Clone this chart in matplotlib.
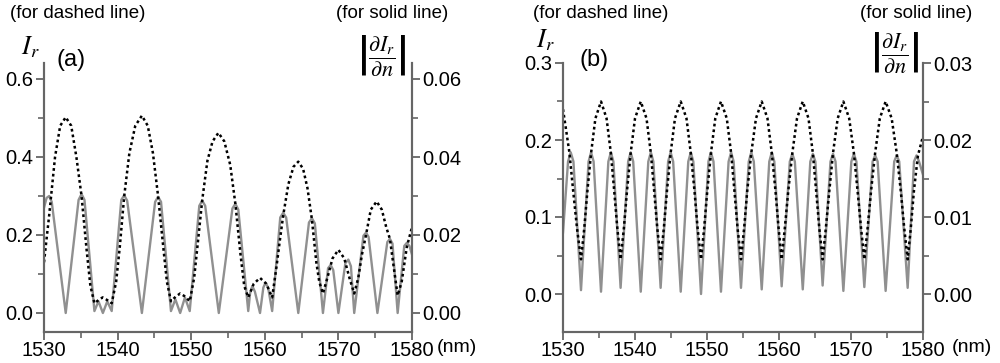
import numpy as np
import matplotlib
matplotlib.use("Agg")
import matplotlib.pyplot as plt
from matplotlib.ticker import MultipleLocator

plt.rcParams["font.family"] = ["Liberation Sans", "DejaVu Sans"]
plt.rcParams["mathtext.fontset"] = "stix"

# ---- panel (a) data ----
a_dash_x = [1530.0, 1530.7, 1531.5, 1532.2, 1532.95, 1533.7, 1534.4, 1535.1, 1535.8, 1536.3,
            1536.85, 1537.4, 1537.97, 1538.6, 1539.2, 1539.8, 1540.3, 1540.9, 1541.6, 1542.4,
            1543.3, 1544.1, 1544.8, 1545.5, 1546.2, 1546.7, 1547.25, 1547.9, 1548.5, 1549.2,
            1549.8, 1550.4, 1550.9, 1551.5, 1552.2, 1552.9, 1553.7, 1554.5, 1555.3, 1556.0,
            1556.7, 1557.2, 1557.75, 1558.5, 1559.35, 1560.2, 1561.0, 1561.6, 1562.0, 1562.5,
            1563.2, 1563.9, 1564.55, 1565.2, 1565.8, 1566.4, 1567.0, 1567.4, 1567.9, 1568.5,
            1569.2, 1570.0, 1570.8, 1571.5, 1572.15, 1572.7, 1573.2, 1573.75, 1574.4, 1575.2,
            1575.9, 1576.5, 1577.0, 1577.5, 1578.05, 1578.6, 1579.3, 1580.0]
a_dash_y = [0.13, 0.25, 0.40, 0.48, 0.502, 0.48, 0.40, 0.30, 0.16, 0.07,
            0.025, 0.033, 0.04, 0.033, 0.025, 0.08, 0.17, 0.30, 0.41, 0.48,
            0.506, 0.48, 0.41, 0.30, 0.17, 0.08, 0.03, 0.042, 0.05, 0.042,
            0.03, 0.09, 0.18, 0.29, 0.39, 0.44, 0.462, 0.44, 0.38, 0.28,
            0.15, 0.07, 0.04, 0.075, 0.09, 0.075, 0.04, 0.12, 0.18, 0.25,
            0.33, 0.375, 0.388, 0.37, 0.32, 0.24, 0.13, 0.08, 0.05, 0.09,
            0.14, 0.162, 0.14, 0.09, 0.05, 0.09, 0.15, 0.20, 0.265, 0.286,
            0.265, 0.22, 0.19, 0.12, 0.045, 0.08, 0.17, 0.22]

a_solid_x = [1530.0, 1530.35, 1530.7, 1531.05, 1532.95, 1534.7, 1535.1, 1535.5, 1536.85, 1537.4,
             1538.0, 1538.6, 1539.2, 1540.5, 1540.9, 1541.3, 1543.3, 1545.1, 1545.5, 1545.9,
             1547.25, 1547.85, 1548.5, 1549.15, 1549.8, 1551.1, 1551.5, 1551.9, 1553.75, 1555.6,
             1556.0, 1556.4, 1557.75, 1558.0, 1558.3, 1558.65, 1559.35, 1559.8, 1560.1, 1560.45,
             1561.0, 1562.1, 1562.5, 1562.9, 1564.55, 1566.0, 1566.4, 1566.8, 1567.9, 1568.6,
             1568.95, 1569.3, 1570.0, 1570.95, 1571.35, 1571.7, 1572.15, 1573.4, 1573.75, 1574.1,
             1575.3, 1576.65, 1577.0, 1577.35, 1578.05, 1578.95, 1579.3, 1579.65, 1580.0]
a_solid_y = [0.0270, 0.0295, 0.0300, 0.0285, 0.0000, 0.0290, 0.0305, 0.0290, 0.0005, 0.0030,
             0.0000, 0.0030, 0.0005, 0.0290, 0.0302, 0.0288, 0.0000, 0.0285, 0.0298, 0.0285,
             0.0005, 0.0035, 0.0000, 0.0040, 0.0005, 0.0275, 0.0288, 0.0275, 0.0000, 0.0268,
             0.0280, 0.0265, 0.0005, 0.0050, 0.0069, 0.0055, 0.0000, 0.0065, 0.0078, 0.0065,
             0.0005, 0.0245, 0.0257, 0.0245, 0.0000, 0.0232, 0.0243, 0.0230, 0.0000, 0.0115,
             0.0123, 0.0110, 0.0000, 0.0128, 0.0137, 0.0120, 0.0000, 0.0198, 0.0206, 0.0195,
             0.0000, 0.0182, 0.0190, 0.0178, 0.0000, 0.0172, 0.0180, 0.0172, 0.0150]

# ---- panel (b) data ----
b_dash_x = [1530.0, 1530.4, 1530.9, 1531.4, 1531.95, 1532.5, 1532.95, 1533.4, 1533.9, 1534.5,
            1535.28, 1536.05, 1536.65, 1537.1, 1537.55, 1538.0, 1538.45, 1538.9, 1539.4, 1540.0,
            1540.8, 1541.6, 1542.2, 1542.65, 1543.1, 1543.56, 1544.0, 1544.45, 1544.95, 1545.55,
            1546.35, 1547.15, 1547.75, 1548.25, 1548.7, 1549.17, 1549.6, 1550.05, 1550.55, 1551.15,
            1551.94, 1552.75, 1553.35, 1553.8, 1554.25, 1554.72, 1555.15, 1555.6, 1556.15, 1556.8,
            1557.6, 1558.4, 1559.0, 1559.5, 1559.95, 1560.37, 1560.8, 1561.3, 1561.85, 1562.5,
            1563.3, 1564.1, 1564.7, 1565.15, 1565.6, 1566.06, 1566.5, 1567.0, 1567.5, 1568.15,
            1568.94, 1569.75, 1570.4, 1570.9, 1571.4, 1571.85, 1572.3, 1572.8, 1573.35, 1574.0,
            1574.81, 1575.65, 1576.35, 1576.9, 1577.4, 1577.87, 1578.3, 1578.75, 1579.3, 1580.0]
b_dash_y = [0.240, 0.215, 0.183, 0.135, 0.085, 0.045, 0.085, 0.135, 0.183, 0.228,
            0.250, 0.228, 0.183, 0.135, 0.085, 0.045, 0.085, 0.135, 0.183, 0.228,
            0.250, 0.228, 0.183, 0.135, 0.085, 0.045, 0.085, 0.135, 0.183, 0.228,
            0.250, 0.228, 0.183, 0.135, 0.085, 0.045, 0.085, 0.135, 0.183, 0.228,
            0.250, 0.228, 0.183, 0.135, 0.085, 0.045, 0.085, 0.135, 0.183, 0.228,
            0.250, 0.228, 0.183, 0.135, 0.085, 0.045, 0.085, 0.135, 0.183, 0.228,
            0.250, 0.228, 0.183, 0.135, 0.085, 0.045, 0.085, 0.135, 0.183, 0.228,
            0.250, 0.228, 0.183, 0.135, 0.085, 0.045, 0.085, 0.135, 0.183, 0.228,
            0.250, 0.228, 0.183, 0.135, 0.085, 0.045, 0.085, 0.135, 0.180, 0.205]

b_solid_x = [1530.0, 1530.7, 1531.07, 1531.45, 1532.5, 1533.55, 1533.9, 1534.25, 1535.28, 1536.3,
             1536.65, 1537.0, 1538.0, 1539.05, 1539.4, 1539.75, 1540.8, 1541.85, 1542.2, 1542.55,
             1543.56, 1544.6, 1544.95, 1545.3, 1546.35, 1547.4, 1547.75, 1548.1, 1549.17, 1550.2,
             1550.55, 1550.9, 1551.94, 1553.0, 1553.35, 1553.7, 1554.72, 1555.8, 1556.15, 1556.5,
             1557.6, 1558.65, 1559.0, 1559.35, 1560.37, 1561.5, 1561.85, 1562.2, 1563.3, 1564.35,
             1564.7, 1565.05, 1566.06, 1567.15, 1567.5, 1567.85, 1568.94, 1570.05, 1570.4, 1570.75,
             1571.85, 1573.0, 1573.35, 1573.7, 1574.81, 1576.0, 1576.35, 1576.7, 1577.87, 1578.75,
             1579.1, 1579.45, 1580.0]
b_solid_y = [0.0080, 0.0172, 0.0184, 0.0172, 0.0005, 0.0172, 0.0184, 0.0172, 0.0003, 0.0172,
             0.0184, 0.0172, 0.0008, 0.0172, 0.0184, 0.0172, 0.0003, 0.0172, 0.0184, 0.0172,
             0.0008, 0.0172, 0.0184, 0.0172, 0.0003, 0.0172, 0.0184, 0.0172, 0.0000, 0.0172,
             0.0184, 0.0172, 0.0003, 0.0172, 0.0184, 0.0172, 0.0008, 0.0172, 0.0184, 0.0172,
             0.0006, 0.0172, 0.0184, 0.0172, 0.0010, 0.0172, 0.0182, 0.0172, 0.0006, 0.0172,
             0.0182, 0.0172, 0.0011, 0.0172, 0.0182, 0.0172, 0.0004, 0.0172, 0.0182, 0.0172,
             0.0009, 0.0172, 0.0180, 0.0172, 0.0004, 0.0172, 0.0180, 0.0172, 0.0008, 0.0172,
             0.0180, 0.0172, 0.0155]

x_ticks = [1530, 1540, 1550, 1560, 1570, 1580]

W, H = 1000, 363
fig = plt.figure(figsize=(W / 100, H / 100), dpi=100)

spine_c = "#666666"
solid_c = "#909090"


def px(x, y):
    return x / W, 1 - y / H


def panel(left_px, right_px, ytop, ymaj, yminor, rfac, rmaj, rminor, lfmt, rfmt,
          dx, dy, sx, sy):
    bottom = 332
    if ytop > 0.5:
        y0, scale = 313, (313 - 79) / 0.6
    else:
        y0, scale = 294, (294 - 63) / 0.3
    top_px = y0 - ytop * scale
    bot_val = (y0 - bottom) / scale
    ax = fig.add_axes([left_px / W, 1 - bottom / H, (right_px - left_px) / W,
                       (bottom - top_px) / H])
    ax2 = ax.twinx()
    ax.set_zorder(ax2.get_zorder() + 1)
    ax.patch.set_visible(False)

    ax2.plot(sx, sy, color=solid_c, lw=1.7, solid_joinstyle="round")
    ax.plot(dx, dy, color="black", lw=1.8, linestyle=(0, (1.1, 1.2)))

    ax.set_xlim(1530, 1580)
    ax.set_xticks(x_ticks)
    ax.xaxis.set_minor_locator(MultipleLocator(5))
    ax.yaxis.set_major_locator(MultipleLocator(ymaj))
    ax.yaxis.set_minor_locator(MultipleLocator(yminor))
    ax2.yaxis.set_major_locator(MultipleLocator(rmaj))
    ax2.yaxis.set_minor_locator(MultipleLocator(rminor))
    ax.yaxis.set_major_formatter(plt.FormatStrFormatter(lfmt))
    ax2.yaxis.set_major_formatter(plt.FormatStrFormatter(rfmt))

    for a in (ax, ax2):
        for s in a.spines.values():
            s.set_color(spine_c)
            s.set_linewidth(1.5)
        a.spines["top"].set_visible(False)
        a.tick_params(which="major", length=6, width=1.3, color=spine_c,
                      labelsize=14.5, pad=1.5, direction="out")
        a.tick_params(which="minor", length=4, width=1.2, color=spine_c, direction="out")
    ax.tick_params(axis="x", pad=0.5)
    ax.set_ylim(bot_val, ytop)
    ax2.set_ylim(bot_val * rfac, ytop * rfac)
    return ax, ax2


panel(44, 412, 0.64, 0.2, 0.1, 0.1, 0.02, 0.01, "%.1f", "%.2f",
      a_dash_x, a_dash_y, a_solid_x, a_solid_y)
panel(563, 923, 0.30, 0.1, 0.05, 0.1, 0.01, 0.005, "%.1f", "%.2f",
      b_dash_x, b_dash_y, b_solid_x, b_solid_y)

# annotations
deriv = r"$\left|\dfrac{\partial I_r}{\partial n}\right|$"
small = 13.5
fig.text(*px(10, 14), "(for dashed line)", fontsize=small, ha="left", va="center")
fig.text(*px(448, 14), "(for solid line)", fontsize=small, ha="right", va="center")
fig.text(*px(533, 14), "(for dashed line)", fontsize=small, ha="left", va="center")
fig.text(*px(972, 14), "(for solid line)", fontsize=small, ha="right", va="center")

fig.text(*px(30, 47), r"$I_r$", fontsize=19, ha="center", va="center")
fig.text(*px(545, 40), r"$I_r$", fontsize=19, ha="center", va="center")
fig.text(*px(71, 60), "(a)", fontsize=17, ha="center", va="center")
fig.text(*px(594, 60), "(b)", fontsize=17, ha="center", va="center")

fig.text(*px(382, 56), deriv, fontsize=16, ha="center", va="center")
fig.text(*px(895, 53), deriv, fontsize=16, ha="center", va="center")

fig.text(*px(437, 348), "(nm)", fontsize=14, ha="left", va="center")
fig.text(*px(952, 348), "(nm)", fontsize=14, ha="left", va="center")

fig.savefig("out.png", dpi=100)
